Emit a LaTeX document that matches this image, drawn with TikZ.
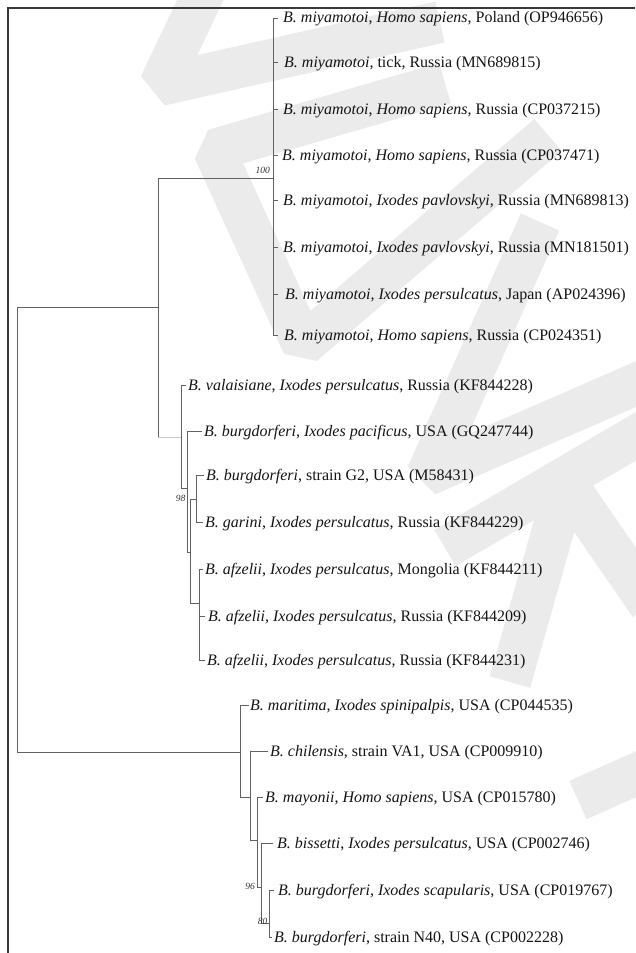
\documentclass[tikz,border=0pt]{standalone}
\usepackage{fontspec}
\setmainfont{Liberation Serif}
\begin{document}
\begin{tikzpicture}[x=1pt,y=-1pt,
  br/.style={draw=black!62, line width=1pt},
  lightbr/.style={draw=black!22, line width=1pt},
  frame/.style={draw=black!78, line width=1.2pt},
  leaf/.style={anchor=west, inner xsep=2pt, inner ysep=0pt, text height=12pt, text depth=2pt, font=\fontsize{16}{18}\selectfont, text=black!92},
  gap/.style={inner xsep=#1},
  boot/.style={anchor=east, inner sep=0pt, font=\fontsize{9.5}{10}\selectfont\itshape, text=black!80},
  wm/.style={draw=black!8, line width=42pt, line join=bevel}
]
\useasboundingbox (0,0) rectangle (635,953);
% watermark
\begin{scope}
\draw[wm] (205,-10) -- (160,85) -- (440,22);
\draw[wm] (445,83) -- (214,150) -- (303,345) -- (548,135);
\draw[wm] (540,222) -- (427,475) -- (650,378);
\draw[wm] (445,548) -- (650,428);
\draw[wm] (565,488) -- (510,682);
\draw[wm] (572,492) -- (650,605);
\draw[wm] (578,800) -- (650,768);
\end{scope}
% frame
\draw[frame] (8,953) -- (8,8) -- (635,8);
% internal nodes
\coordinate (r) at (17,530);
\coordinate (ab) at (158,307);
\coordinate (c1) at (273,178);
\coordinate (na) at (181,437);
\coordinate (nb) at (187,488);
\coordinate (nc) at (190,552);
\coordinate (nd) at (196,499);
\coordinate (ne) at (199,603);
\coordinate (nf) at (240,752);
\coordinate (ng) at (250,797);
\coordinate (nh) at (257,840);
\coordinate (ni) at (261,887);
\coordinate (nj) at (269,923);
% leaves
\node[leaf,gap=5pt] (l1) at (278,18) {\textit{B. miyamotoi}, \textit{Homo sapiens}, Poland (OP946656)};
\node[leaf,gap=6pt] (l2) at (278,62) {\textit{B. miyamotoi}, tick, Russia (MN689815)};
\node[leaf,gap=5pt] (l3) at (278,109) {\textit{B. miyamotoi}, \textit{Homo sapiens}, Russia (CP037215)};
\node[leaf,gap=4pt] (l4) at (278,155) {\textit{B. miyamotoi}, \textit{Homo sapiens}, Russia (CP037471)};
\node[leaf,gap=5pt] (l5) at (278,200) {\textit{B. miyamotoi}, \textit{Ixodes pavlovskyi}, Russia (MN689813)};
\node[leaf,gap=5pt] (l6) at (278,247) {\textit{B. miyamotoi}, \textit{Ixodes pavlovskyi}, Russia (MN181501)};
\node[leaf,gap=7pt] (l7) at (278,294) {\textit{B. miyamotoi}, \textit{Ixodes persulcatus}, Japan (AP024396)};
\node[leaf,gap=6pt] (l8) at (278,335) {\textit{B. miyamotoi}, \textit{Homo sapiens}, Russia (CP024351)};
\node[leaf] (l9) at (186,385) {\textit{B. valaisiane}, \textit{Ixodes persulcatus}, Russia (KF844228)};
\node[leaf] (l10) at (202,431) {\textit{B. burgdorferi}, \textit{Ixodes pacificus}, USA (GQ247744)};
\node[leaf] (l11) at (204,475) {\textit{B. burgdorferi}, strain G2, USA (M58431)};
\node[leaf] (l12) at (203,522) {\textit{B. garini}, \textit{Ixodes persulcatus}, Russia (KF844229)};
\node[leaf] (l13) at (203,569) {\textit{B. afzelii}, \textit{Ixodes persulcatus}, Mongolia (KF844211)};
\node[leaf,gap=3pt] (l14) at (205,616) {\textit{B. afzelii}, \textit{Ixodes persulcatus}, Russia (KF844209)};
\node[leaf] (l15) at (205,660) {\textit{B. afzelii}, \textit{Ixodes persulcatus}, Russia (KF844231)};
\node[leaf,gap=1pt] (l16) at (249,705) {\textit{B. maritima}, \textit{Ixodes spinipalpis}, USA (CP044535)};
\node[leaf] (l17) at (268,751) {\textit{B. chilensis}, strain VA1, USA (CP009910)};
\node[leaf] (l18) at (263,797) {\textit{B. mayonii}, \textit{Homo sapiens}, USA (CP015780)};
\node[leaf,gap=4pt] (l19) at (273,843) {\textit{B. bissetti}, \textit{Ixodes persulcatus}, USA (CP002746)};
\node[leaf,gap=4pt] (l20) at (274,890) {\textit{B. burgdorferi}, \textit{Ixodes scapularis}, USA (CP019767)};
\node[leaf] (l21) at (272,937) {\textit{B. burgdorferi}, strain N40, USA (CP002228)};
% branches
\draw[br] (r) |- (ab);
\draw[br] (r) |- (nf);
\draw[br] (ab) |- (c1);
\draw[br] (ab) -- (ab |- na);
\draw[lightbr] (ab |- na) -- (na);
\foreach \i in {1,...,8} \draw[br] (c1) |- (l\i.west);
\draw[br] (na) |- (l9.west);
\draw[br] (na) |- (nb);
\draw[br] (nb) |- (l10.west);
\draw[br] (nb) |- (nc);
\draw[br] (nc) |- (nd);
\draw[br] (nc) |- (ne);
\draw[br] (nd) |- (l11.west);
\draw[br] (nd) |- (l12.west);
\foreach \i in {13,14,15} \draw[br] (ne) |- (l\i.west);
\draw[br] (nf) |- (l16.west);
\draw[br] (nf) |- (ng);
\draw[br] (ng) |- (l17.west);
\draw[br] (ng) |- (nh);
\draw[br] (nh) |- (l18.west);
\draw[br] (nh) |- (ni);
\draw[br] (ni) |- (l19.west);
\draw[br] (ni) |- (nj);
\draw[br] (nj) |- (l20.west);
\draw[br] (nj) |- (l21.west);
% bootstrap values
\node[boot] (b100) at (270,170) {100};
\node[boot] (b98) at (185.5,498) {98};
\node[boot] (b96) at (255,886) {96};
\node[boot] (b80) at (267.5,921) {80};
\end{tikzpicture}
\end{document}
